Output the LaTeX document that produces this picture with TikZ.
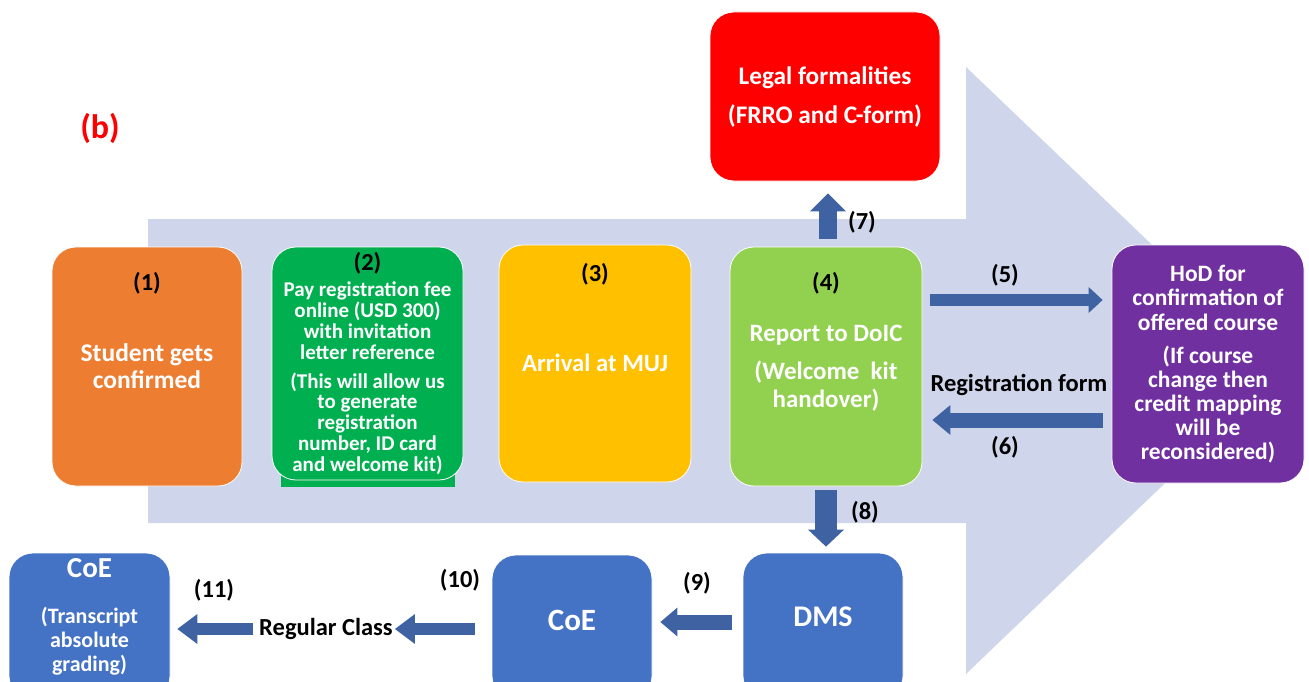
\documentclass[tikz,border=0pt]{standalone}
\usepackage{fontspec}
\setmainfont{Carlito}
\usetikzlibrary{arrows.meta}
\definecolor{bgarrow}{HTML}{CFD5EA}
\definecolor{arrowblue}{HTML}{3F62A3}
\definecolor{cOrange}{HTML}{ED7D31}
\definecolor{cGreen}{HTML}{00B050}
\definecolor{cYellow}{HTML}{FFC000}
\definecolor{cLight}{HTML}{92D050}
\definecolor{cPurple}{HTML}{7030A0}
\definecolor{cRed}{HTML}{FF0000}
\definecolor{cBlue}{HTML}{4472C4}
\begin{document}
\begin{tikzpicture}[x=1pt,y=-1pt,
  box/.style={draw=white, line width=0.8pt, rounded corners=24pt, fill=#1, inner sep=0pt},
  wt/.style 2 args={text=white, align=center, inner sep=0pt, font=\bfseries\fontsize{#1}{#2}\selectfont},
  bk/.style={text=black, align=center, inner sep=0pt, font=\bfseries\fontsize{24.5}{28}\selectfont},
  blk/.style n args={3}{draw=arrowblue, line width=#1, -{Triangle[width=#2,length=#3,line width=0pt]}}]
\useasboundingbox (0,0) rectangle (1309,682);
\clip (0,0) rectangle (1309,682);

% background arrow
\fill[bgarrow] (148,219) -- (966,219) -- (966,67) -- (1283,370) -- (966,674) -- (966,523) -- (148,523) -- cycle;

\node[text=cRed, font=\bfseries\fontsize{34}{38}\selectfont, inner sep=0pt] (lb) at (100,128) {(b)};

% boxes
\node[box=cOrange, minimum width=190pt, minimum height=239pt] (n1) at (147,366.5) {};
\fill[cGreen] (281,455) rectangle (455,486.5);
\node[box=cGreen, minimum width=191pt, minimum height=233pt] (n2) at (367.5,363.5) {};
\node[box=cYellow, minimum width=192pt, minimum height=237pt] (n3) at (595,363.5) {};
\node[box=cLight, minimum width=192pt, minimum height=239pt] (n4) at (826,366.5) {};
\node[box=cPurple, minimum width=192pt, minimum height=238pt] (hod) at (1208,364) {};
\node[box=cRed, minimum width=230pt, minimum height=169pt] (legal) at (825,96.5) {};
\node[box=cBlue, minimum width=160pt, minimum height=147pt] (dms) at (823,626.5) {};
\node[box=cBlue, minimum width=160pt, minimum height=145pt] (coe2) at (572,627.5) {};
\node[box=cBlue, minimum width=161pt, minimum height=147pt] (coe1) at (89.5,626.5) {};

% box texts
\node[bk] (t1n) at (147,283) {(1)};
\node[wt={25.5}{27}] (t1) at (147,366.5) {Student gets\\confirmed};

\node[bk] (t2n) at (367.5,263) {(2)};
\node[wt={21}{21}] (t2a) at (367.5,320.5) {Pay registration fee\\online (USD 300)\\with invitation\\letter reference};
\node[wt={21}{20.8}] (t2b) at (367.5,423.5) {(This will allow us\\to generate\\registration\\number, ID card\\and welcome kit)};

\node[bk] (t3n) at (595,274) {(3)};
\node[wt={24.8}{28}] (t3) at (595,363) {Arrival at MUJ};

\node[bk] (t4n) at (826,283) {(4)};
\node[wt={25}{28}] (t4a) at (826,335) {Report to DoIC};
\node[wt={25}{28}] (t4b) at (826,386) {(Welcome\ \ kit\\handover)};

\node[wt={23.5}{24.5}] (th1) at (1208,297.5) {HoD for\\confirmation of\\offered course};
\node[wt={23.5}{23.8}] (th2) at (1208,404.5) {(If course\\change then\\credit mapping\\will be\\reconsidered)};

\node[wt={25.3}{28}] (tl1) at (825,78) {Legal formalities};
\node[wt={25.3}{28}] (tl2) at (825,116) {(FRRO and C-form)};

\node[wt={30}{34}] (tdms) at (823,617) {DMS};
\node[wt={31}{34}] (tcoe2) at (572,620) {CoE};
\node[wt={29}{32}] (tcoe1a) at (89.5,568) {CoE};
\node[wt={22}{24}] (tcoe1b) at (89.5,641) {(Transcript\\absolute\\grading)};

% labels
\node[bk] (l5) at (1005,275) {(5)};
\node[bk] (l6) at (1005,447) {(6)};
\node[bk] (lrf) at (1019,385) {Registration form};
\node[bk] (l7) at (862,222) {(7)};
\node[bk] (l8) at (865,512) {(8)};
\node[bk] (l9) at (697,583) {(9)};
\node[bk] (l10) at (460,580) {(10)};
\node[bk] (l11) at (214,590) {(11)};
\node[bk] (rc) at (326,629) {Regular Class};

% connectors
\draw[blk={12pt}{26pt}{14pt}] ([yshift=66.5pt,xshift=8pt]n4.east) -- ([yshift=64pt,xshift=-9pt]hod.west);
\draw[blk={15pt}{30pt}{18pt}] ([yshift=-56pt,xshift=-9pt]hod.west) -- ([yshift=-53.5pt,xshift=10pt]n4.east);
\draw[blk={18pt}{36pt}{18pt}] ([xshift=2pt,yshift=8pt]n4.north) -- ([xshift=3pt,yshift=-12pt]legal.south);
\draw[blk={22pt}{36pt}{17pt}] ([yshift=-4pt]n4.south) -- ([xshift=3pt,yshift=6pt]dms.north);
\draw[blk={15pt}{29pt}{17pt}] ([yshift=4.5pt,xshift=-11pt]dms.west) -- ([yshift=5.5pt,xshift=8pt]coe2.east);
\draw[blk={12pt}{30pt}{20pt}] ([yshift=-1.5pt,xshift=-17pt]coe2.west) -- ([xshift=2pt]rc.east);
\draw[blk={12pt}{30pt}{20pt}] ([xshift=-6pt]rc.west) -- ([yshift=-2.5pt,xshift=7pt]coe1.east);
\end{tikzpicture}
\end{document}
